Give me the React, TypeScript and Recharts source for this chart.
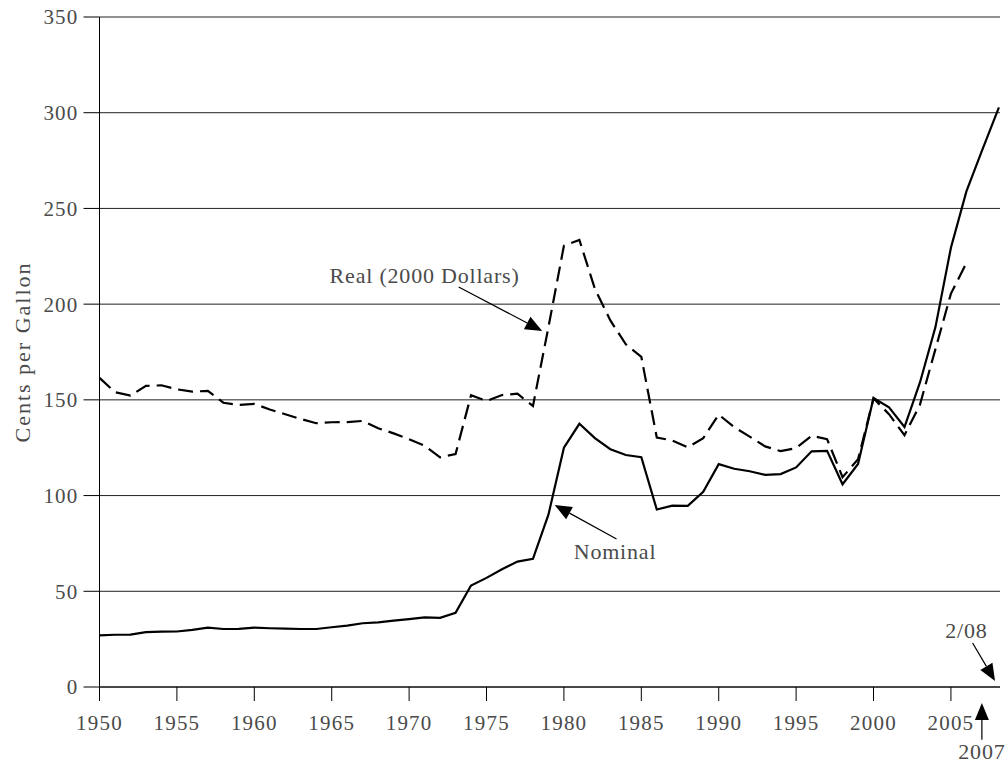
import React from "react";
import {
  LineChart,
  Line,
  XAxis,
  YAxis,
  CartesianGrid,
  ReferenceLine,
  ReferenceDot,
} from "recharts";

const years = [
  1950, 1951, 1952, 1953, 1954, 1955, 1956, 1957, 1958, 1959,
  1960, 1961, 1962, 1963, 1964, 1965, 1966, 1967, 1968, 1969,
  1970, 1971, 1972, 1973, 1974, 1975, 1976, 1977, 1978, 1979,
  1980, 1981, 1982, 1983, 1984, 1985, 1986, 1987, 1988, 1989,
  1990, 1991, 1992, 1993, 1994, 1995, 1996, 1997, 1998, 1999,
  2000, 2001, 2002, 2003, 2004, 2005, 2006, 2007, 2008.1,
];

// cents per gallon, nominal (last value is 2/08)
const nominal = [
  27.0, 27.3, 27.4, 28.7, 28.9, 29.0, 29.8, 31.0, 30.3, 30.4,
  31.0, 30.7, 30.5, 30.3, 30.3, 31.2, 32.1, 33.3, 33.8, 34.7,
  35.5, 36.4, 36.1, 38.8, 53.0, 57.0, 61.5, 65.5, 67.0, 90.0,
  125.0, 137.5, 130.0, 124.2, 121.2, 120.0, 92.7, 94.7, 94.6, 102.0,
  116.4, 114.0, 112.7, 110.8, 111.2, 114.7, 123.1, 123.4, 105.9, 116.5,
  151.0, 146.1, 135.8, 159.1, 188.0, 229.5, 258.9, 280.1, 302.8,
];

// real, 2000 dollars (ends 2006)
const real = [
  161.5, 154.0, 152.2, 157.3, 157.6, 155.5, 154.3, 154.7, 148.5, 147.3,
  147.9, 145.0, 142.5, 140.0, 137.8, 138.3, 138.4, 139.0, 135.2, 132.5,
  129.4, 126.0, 120.0, 121.7, 152.4, 149.4, 152.5, 153.2, 146.8, 188.0,
  230.5, 233.5, 208.0, 191.5, 179.0, 172.5, 130.3, 128.8, 125.2, 130.0,
  142.3, 135.7, 130.8, 125.7, 123.2, 124.8, 131.2, 129.5, 109.6, 119.0,
  150.8, 142.5, 131.5, 147.5, 176.5, 205.5, 221.5, null, null,
];

const xTicks = [1950, 1955, 1960, 1965, 1970, 1975, 1980, 1985, 1990, 1995, 2000, 2005];
const yTicks = [0, 50, 100, 150, 200, 250, 300, 350];

const data = years.map((year, i) => ({ year, nominal: nominal[i], real: real[i] }));

const FONT = "'Liberation Serif', 'Times New Roman', serif";
const TEXT_FILL = "#4a4a4a";

const XTick = (props: any) => {
  const { x, y, payload } = props;
  return (
    <text x={x} y={y} dy="0.71em" textAnchor="middle" fill={TEXT_FILL}
      fontFamily={FONT} fontSize={21} letterSpacing={1.2}>
      {payload.value}
    </text>
  );
};

const YTick = (props: any) => {
  const { x, y, payload } = props;
  return (
    <text x={x} y={y} dy="0.355em" textAnchor="end" fill={TEXT_FILL}
      fontFamily={FONT} fontSize={21} letterSpacing={1.2}>
      {payload.value}
    </text>
  );
};

const arrowShape = (props: any) => {
  const { x1, y1, x2, y2 } = props;
  const dx = x2 - x1;
  const dy = y2 - y1;
  const len = Math.sqrt(dx * dx + dy * dy) || 1;
  const ux = dx / len;
  const uy = dy / len;
  const headL = 17;
  const headW = 7;
  const bx = x2 - ux * headL;
  const by = y2 - uy * headL;
  const pts = `${x2},${y2} ${bx - uy * headW},${by + ux * headW} ${bx + uy * headW},${by - ux * headW}`;
  return (
    <g>
      <line x1={x1} y1={y1} x2={bx} y2={by} stroke="#000" strokeWidth={1.2} />
      <polygon points={pts} fill="#000" />
    </g>
  );
};

const textShape = (label: string) => (props: any) => (
  <text x={props.cx} y={props.cy} dy="0.35em" textAnchor="middle" fill={TEXT_FILL}
    fontFamily={FONT} fontSize={22} letterSpacing={0.8}>
    {label}
  </text>
);

export default function App() {
  return (
    <div style={{ position: "absolute", left: 0, top: 0, background: "#fff" }}>
      <LineChart width={1008} height={767} data={data}
        margin={{ top: 17, right: 8, left: 0, bottom: 0 }}>
        <CartesianGrid vertical={false} stroke="#222" strokeWidth={1} />
        <XAxis dataKey="year" type="number" domain={[1950, 2008.17]} ticks={xTicks}
          allowDataOverflow height={80} tickSize={14} tickMargin={14}
          axisLine={{ stroke: "#000" }} tickLine={{ stroke: "#000" }} tick={<XTick />} />
        <YAxis type="number" domain={[0, 350]} ticks={yTicks} width={99.5}
          tickSize={16} tickMargin={5} axisLine={{ stroke: "#000" }}
          tickLine={{ stroke: "#000" }} tick={<YTick />}
          label={{
            value: "Cents per Gallon", angle: -90, position: "insideLeft", offset: 22,
            style: { textAnchor: "middle", fontFamily: FONT, fontSize: 22, fill: TEXT_FILL, letterSpacing: 2 },
          }} />
        <Line type="linear" dataKey="real" stroke="#000" strokeWidth={2.2}
          strokeDasharray="15 7" dot={false} isAnimationActive={false} connectNulls={false} />
        <Line type="linear" dataKey="nominal" stroke="#000" strokeWidth={2.2}
          dot={false} isAnimationActive={false} />

        <ReferenceLine ifOverflow="visible" segment={[{ x: 1973.2, y: 209 }, { x: 1978.6, y: 186 }]} shape={arrowShape} />
        <ReferenceDot ifOverflow="visible" x={1971.0} y={215.3} r={0} shape={textShape("Real (2000 Dollars)")} />

        <ReferenceLine ifOverflow="visible" segment={[{ x: 1983.4, y: 77.3 }, { x: 1979.4, y: 95.1 }]} shape={arrowShape} />
        <ReferenceDot ifOverflow="visible" x={1983.3} y={71} r={0} shape={textShape("Nominal")} />

        <ReferenceLine ifOverflow="visible" segment={[{ x: 2006.4, y: 23 }, { x: 2007.85, y: 3.1 }]} shape={arrowShape} />
        <ReferenceDot ifOverflow="visible" x={2006.0} y={29.8} r={0} shape={textShape("2/08")} />

        <ReferenceLine ifOverflow="visible" segment={[{ x: 2007, y: -27.5 }, { x: 2007, y: -8.4 }]} shape={arrowShape} />
        <ReferenceDot ifOverflow="visible" x={2007} y={-33.5} r={0} shape={textShape("2007")} />
      </LineChart>
    </div>
  );
}
